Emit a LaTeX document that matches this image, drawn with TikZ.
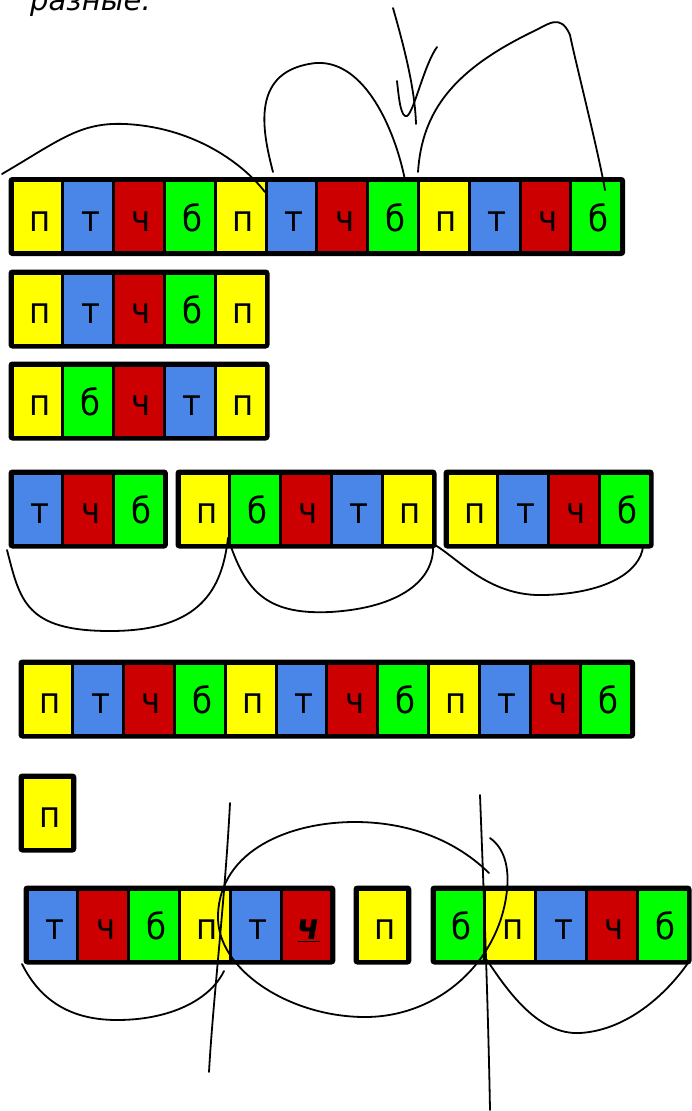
\documentclass[tikz,border=0pt]{standalone}
\usepackage{fontspec}
\setmainfont{DejaVu Sans}
\newfontfamily\cellfont[FakeStretch=0.9]{DejaVu Sans}
\usepackage{tikz}
\usepackage{xcolor}

\definecolor{yl}{HTML}{FFFF00}
\definecolor{bl}{HTML}{4A86E8}
\definecolor{rd}{HTML}{CC0000}
\definecolor{gr}{HTML}{00FF00}

% one strip of letter cells: name, left x, centre y, number of cells, colour/letter list
\newcommand{\cellrow}[5]{%
  \foreach \c/\l [count=\i] in {#5}
    \node[cell, fill=\c] (#1-\i) at ({#2+(\i-0.5)*50.8}, #3) {\hspace*{5pt}\l};
  \draw[frame] (#1-1.north west) rectangle (#1-#4.south east);
}

\begin{document}
\begin{tikzpicture}[
    x=1pt, y=-1pt,
    cell/.style={draw=black, line width=3pt, inner sep=0pt, minimum width=50.8pt, minimum height=72pt, text height=29pt, text depth=0pt, font=\cellfont\fontsize{36}{40}\selectfont},
    frame/.style={draw=black, line width=4pt, rounded corners=2pt},
    scribble/.style={black, line width=1.8pt, line cap=round, line join=round}
  ]
    \useasboundingbox (0,0) rectangle (691,1111);
    \node[anchor=base west, inner sep=0pt, font=\itshape\fontsize{29}{34}\selectfont] (caption) at (30,10) {разные.};

    \cellrow{a}{12}{216.5}{12}{yl/п,bl/т,rd/ч,gr/б,yl/п,bl/т,rd/ч,gr/б,yl/п,bl/т,rd/ч,gr/б}
    \cellrow{b}{12}{309}{5}{yl/п,bl/т,rd/ч,gr/б,yl/п}
    \cellrow{c}{12}{401}{5}{yl/п,gr/б,rd/ч,bl/т,yl/п}
    \cellrow{d}{12}{509}{3}{bl/т,rd/ч,gr/б}
    \cellrow{e}{179}{509}{5}{yl/п,gr/б,rd/ч,bl/т,yl/п}
    \cellrow{f}{447}{509}{4}{yl/п,bl/т,rd/ч,gr/б}
    \cellrow{g}{22}{699}{12}{yl/п,bl/т,rd/ч,gr/б,yl/п,bl/т,rd/ч,gr/б,yl/п,bl/т,rd/ч,gr/б}
    \cellrow{h}{22}{813}{1}{yl/п}
    \cellrow{k}{27}{925}{6}{bl/т,rd/ч,gr/б,yl/п,bl/т,rd/{\bfseries\itshape\underline{ч}}}
    \cellrow{m}{357}{925}{1}{yl/п}
    \cellrow{n}{434}{925}{5}{gr/б,yl/п,bl/т,rd/ч,gr/б}

    % strokes over the first strip
    \draw[scribble] (2,174) .. controls (60,140) and (80,122) .. (125,124) .. controls (190,127) and (240,160) .. (265,192);
    \draw[scribble] (273,172) .. controls (262,130) and (250,70) .. (316,63) .. controls (365,60) and (395,130) .. (405,180);
    \draw[scribble] (393,8) .. controls (405,50) and (415,90) .. (416,124);
    \draw[scribble] (397,81) .. controls (399,100) and (401,118) .. (407,116) .. controls (414,112) and (424,65) .. (437,47);
    \draw[scribble] (418,172) .. controls (422,110) and (455,70) .. (530,33) .. controls (548,25) and (560,12) .. (570,35) .. controls (575,60) and (598,150) .. (605,190);

    % strokes under the split strip
    \draw[scribble] (7,550) .. controls (20,600) and (25,631) .. (110,631) .. controls (200,631) and (222,590) .. (228,538);
    \draw[scribble] (228,538) .. controls (245,590) and (265,615) .. (330,612) .. controls (400,608) and (435,580) .. (433,545);
    \draw[scribble] (435,545) .. controls (460,560) and (490,597) .. (545,595) .. controls (610,593) and (640,570) .. (643,547);

    % strokes over the last strip
    \draw[scribble] (22,964) .. controls (40,1000) and (70,1020) .. (117,1020) .. controls (170,1020) and (210,1000) .. (224,971);
    \draw[scribble] (230,803) .. controls (225,900) and (213,1000) .. (209,1072);
    \draw[scribble] (489,873) .. controls (450,835) and (400,822) .. (355,822) .. controls (290,822) and (220,850) .. (218,915) .. controls (216,970) and (290,1017) .. (365,1017) .. controls (440,1017) and (500,960) .. (507,890) .. controls (510,860) and (500,845) .. (490,838);
    \draw[scribble] (480,795) .. controls (484,900) and (488,1000) .. (490,1110);
    \draw[scribble] (487,960) .. controls (510,995) and (540,1035) .. (580,1033) .. controls (630,1030) and (670,990) .. (690,960);
\end{tikzpicture}
\end{document}
